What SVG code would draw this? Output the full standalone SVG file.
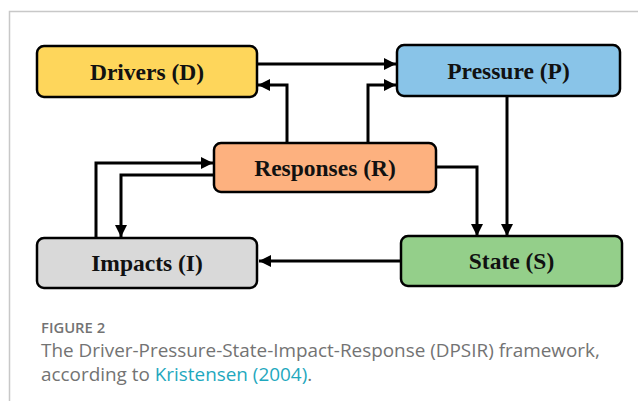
<svg xmlns="http://www.w3.org/2000/svg" width="638" height="401" viewBox="0 0 638 401">
<defs>
<marker id="ah" viewBox="0 0 10 10" refX="10" refY="5" markerWidth="4" markerHeight="4" orient="auto" markerUnits="strokeWidth">
<path d="M0,0 L10,5 L0,10 Z" fill="#000"/>
</marker>
</defs>
<style>
.box{stroke:#000;stroke-width:2.5}
.lbl{font-family:"Liberation Serif","DejaVu Serif",serif;font-weight:bold;font-size:23.5px;fill:#111;text-anchor:middle;dominant-baseline:central}
.con{fill:none;stroke:#000;stroke-width:3;marker-end:url(#ah)}
.cap{font-family:"Open Sans","Liberation Sans",sans-serif;fill:#737373}
</style>
<rect width="638" height="401" fill="#fff"/>
<path d="M638,11.5 H9.5 V401" fill="none" stroke="#c8c8c8" stroke-width="1.5"/>
<g id="connectors">
<path class="con" d="M257,64 H396"/>
<path class="con" d="M287,143 V85 H258"/>
<path class="con" d="M368,143 V85 H396"/>
<path class="con" d="M507,96 V236"/>
<path class="con" d="M436,167 H477 V236"/>
<path class="con" d="M401,261 H259"/>
<path class="con" d="M96,238 V163 H213"/>
<path class="con" d="M214,175 H121 V237"/>
</g>
<g id="drivers">
<rect class="box" x="37" y="46" width="220" height="51" rx="7" fill="#FED65B"/>
<text class="lbl" x="147" y="71.5">Drivers (D)</text>
</g>
<g id="pressure">
<rect class="box" x="397" y="45" width="223" height="51" rx="7" fill="#89C4E8"/>
<text class="lbl" x="508.5" y="70.5">Pressure (P)</text>
</g>
<g id="responses">
<rect class="box" x="214" y="143" width="222" height="49" rx="7" fill="#FDB17F"/>
<text class="lbl" x="325" y="167.5">Responses (R)</text>
</g>
<g id="impacts">
<rect class="box" x="37" y="238" width="220" height="50" rx="7" fill="#D9D9D9"/>
<text class="lbl" x="147" y="263">Impacts (I)</text>
</g>
<g id="state">
<rect class="box" x="401" y="236" width="221" height="50" rx="7" fill="#94CF8A"/>
<text class="lbl" x="511.5" y="261">State (S)</text>
</g>
<text class="cap" x="41" y="333" font-size="14.8" font-weight="600">FIGURE 2</text>
<text class="cap" x="41" y="357" font-size="18.9">The Driver-Pressure-State-Impact-Response (DPSIR) framework,</text>
<text class="cap" x="41" y="381" font-size="18.9">according to <tspan fill="#1FA8BE">Kristensen (2004)</tspan>.</text>
</svg>
